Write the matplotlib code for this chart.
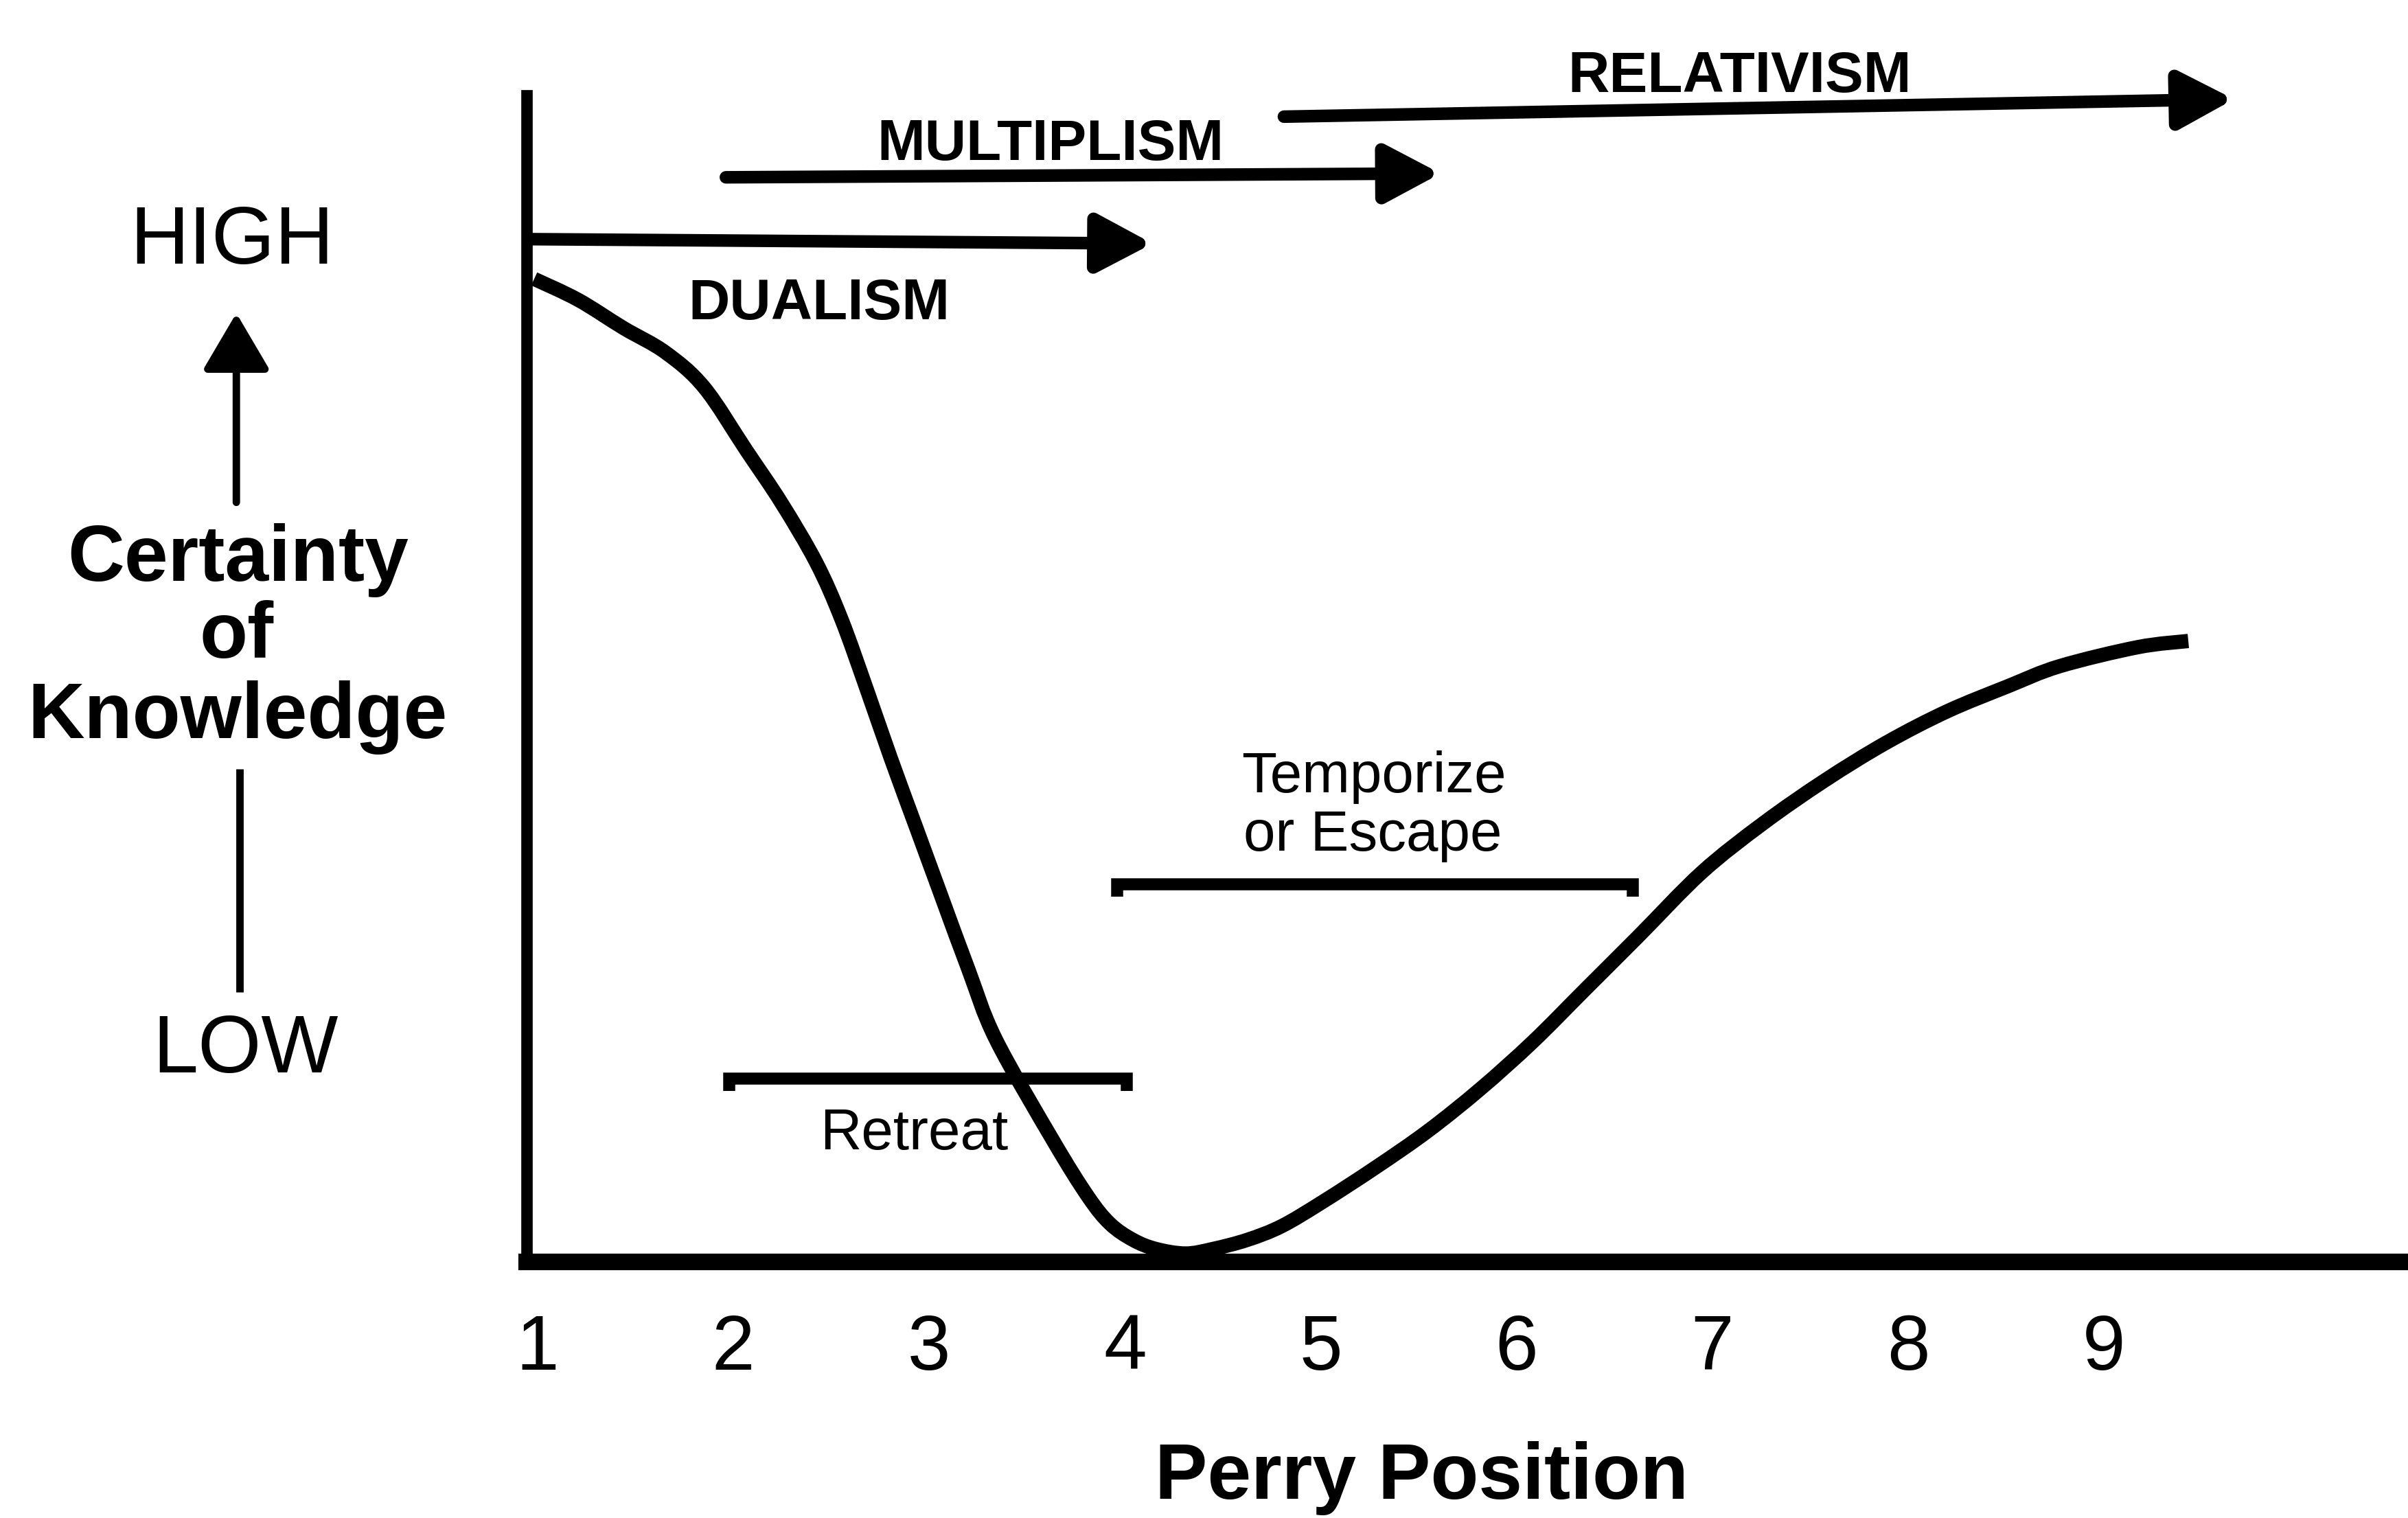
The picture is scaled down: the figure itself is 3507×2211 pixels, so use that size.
import matplotlib
matplotlib.use("Agg")
import matplotlib.pyplot as plt
from matplotlib.patches import FancyArrowPatch, PathPatch
from matplotlib.path import Path
from matplotlib.lines import Line2D
from matplotlib import font_manager as fm

# ---------------- data ----------------
positions = [1, 2, 3, 4, 5, 6, 7, 8, 9]
tick_labels = ["1", "2", "3", "4", "5", "6", "7", "8", "9"]

curve_x = [0.983, 1.208, 1.439, 1.655, 1.852, 2.067, 2.246, 2.424, 2.552, 2.681,
           2.806, 2.937, 3.068, 3.200, 3.340, 3.633, 3.812, 3.924, 4.041, 4.158,
           4.310, 4.450, 4.625, 4.801, 5.010, 5.278, 5.548, 5.816, 6.084, 6.352,
           6.621, 6.946, 7.259, 7.573, 7.886, 8.198, 8.511, 8.774, 9.173, 9.431]
curve_y = [84.25, 82.45, 80.04, 77.93, 74.93, 69.54, 65.04, 59.92, 55.09, 49.09,
           43.08, 37.08, 31.08, 25.08, 19.08, 10.39, 5.57, 3.25, 1.87, 1.09,
           0.70, 1.09, 1.87, 3.05, 5.13, 8.05, 11.21, 14.82, 18.86, 23.36,
           27.87, 33.37, 37.57, 41.24, 44.47, 47.17, 49.34, 51.05, 52.68, 53.21]

phase_names = ["DUALISM", "MULTIPLISM", "RELATIVISM"]
phase_x0 = [0.945, 1.962, 4.812]
phase_x1 = [4.141, 5.612, 9.664]
phase_y0 = [87.66, 92.96, 98.16]
phase_y1 = [87.28, 93.29, 99.66]
phase_label_x = [2.438, 3.620, 7.139]
phase_label_y = [80.79, 94.43, 100.3]

bracket_x0 = [1.980, 3.960]
bracket_x1 = [4.010, 6.594]
bracket_y = [15.72, 32.37]
bracket_text = [["Retreat"], ["Temporize", "or Escape"]]
bracket_text_x = [[2.923], [5.271, 5.267]]
bracket_text_y = [[9.61], [40.26, 35.21]]

y_label_lines = ["Certainty", "of", "Knowledge"]

# ---------------- fonts ----------------
names = {f.name for f in fm.fontManager.ttflist}
if "Liberation Sans Narrow" in names:
    NARROW, nscale = "Liberation Sans Narrow", 1.0
else:
    NARROW, nscale = "Liberation Sans", 0.82
REG = "Liberation Sans"
plt.rcParams["font.family"] = [REG, "DejaVu Sans"]

# ---------------- figure ----------------
W, H = 1568.0, 989.0  # layout reference grid
fig = plt.figure(figsize=(3507 / 300, 2211 / 300), dpi=300)
fig.patch.set_facecolor("white")

ax_left = 343 / W
ax_bottom = 1 - 822 / H
ax = fig.add_axes([ax_left, ax_bottom, 1 - ax_left, 1 - ax_bottom])
ax.set_xlim(0.945, 10.553)
ax.set_ylim(0, 108.16)
ax.set_facecolor("none")

for s in ["top", "right"]:
    ax.spines[s].set_visible(False)
ax.spines["left"].set_bounds(0, 100)
ax.spines["left"].set_linewidth(4.0)
ax.spines["bottom"].set_linewidth(5.8)
for s in ["left", "bottom"]:
    ax.spines[s].set_capstyle("projecting")
    ax.spines[s].set_color("black")

ax.set_yticks([])
ax.set_xticks(positions, tick_labels)
ax.tick_params(axis="x", length=0, pad=18, labelsize=27)

ax.set_xlabel("Perry Position", fontsize=27.5, fontweight="bold")
ax.xaxis.set_label_coords((925.6 - 343) / (W - 343), (822 - 976.5) / 822)
ax.xaxis.label.set_va("baseline")

# curve: smooth path through the read points (Catmull-Rom as cubic Beziers)
pts = list(zip(curve_x, curve_y))
n = len(pts)
verts = [pts[0]]
codes = [Path.MOVETO]
for i in range(n - 1):
    p0 = pts[i - 1] if i > 0 else pts[i]
    p1 = pts[i]
    p2 = pts[i + 1]
    p3 = pts[i + 2] if i + 2 < n else pts[i + 1]
    c1 = (p1[0] + (p2[0] - p0[0]) / 6, p1[1] + (p2[1] - p0[1]) / 6)
    c2 = (p2[0] - (p3[0] - p1[0]) / 6, p2[1] - (p3[1] - p1[1]) / 6)
    verts += [c1, c2, p2]
    codes += [Path.CURVE4, Path.CURVE4, Path.CURVE4]
curve = PathPatch(Path(verts, codes), facecolor="none", edgecolor="black",
                  lw=5.0, capstyle="butt", joinstyle="round", zorder=3)
ax.add_patch(curve)

# phase arrows
for name, x0, x1, y0, y1, lx, ly in zip(phase_names, phase_x0, phase_x1,
                                         phase_y0, phase_y1, phase_label_x, phase_label_y):
    arr = FancyArrowPatch((x0, y0), (x1, y1),
                          arrowstyle="-|>,head_length=16,head_width=8.5",
                          mutation_scale=1, lw=4.4, color="black",
                          shrinkA=0, shrinkB=0, joinstyle="round", zorder=3)
    ax.add_patch(arr)
    ax.text(lx, ly, name, ha="center", va="baseline", fontsize=24.5 * nscale,
            fontweight="bold", family=NARROW)

# brackets
d = 1.1
for x0, x1, y, txts, txs, tys in zip(bracket_x0, bracket_x1, bracket_y,
                                      bracket_text, bracket_text_x, bracket_text_y):
    ax.plot([x0, x0, x1, x1], [y - d, y, y, y - d], color="black", lw=4.2,
            solid_capstyle="butt", solid_joinstyle="miter", zorder=3)
    for t, tx, ty in zip(txts, txs, tys):
        ax.text(tx, ty, t, ha="center", va="baseline", fontsize=24.5 * nscale,
                family=NARROW)

# ---------------- left-hand scale labels ----------------
def fx(px):
    return px / W

def fy(py):
    return 1 - py / H

fig.text(fx(151), fy(171.6), "HIGH", ha="center", va="baseline", fontsize=28.5)
fig.text(fx(160), fy(698.5), "LOW", ha="center", va="baseline", fontsize=28.5)
for line, cx, by in zip(y_label_lines, [154.9, 154.0, 154.5], [378.4, 428.4, 481.0]):
    fig.text(fx(cx), fy(by), line, ha="center", va="baseline", fontsize=27.5,
             fontweight="bold")

up = FancyArrowPatch((fx(153.9), fy(327.3)), (fx(153.9), fy(201.6)),
                     transform=fig.transFigure,
                     arrowstyle="-|>,head_length=17,head_width=10",
                     mutation_scale=1, lw=2.6, color="black",
                     shrinkA=0, shrinkB=1.3, joinstyle="round")
fig.add_artist(up)
fig.add_artist(Line2D([fx(156.2), fx(156.2)], [fy(501), fy(646.5)],
                      transform=fig.transFigure, color="black", lw=2.6,
                      solid_capstyle="butt"))

fig.savefig("out.png", dpi=300, facecolor="white")
